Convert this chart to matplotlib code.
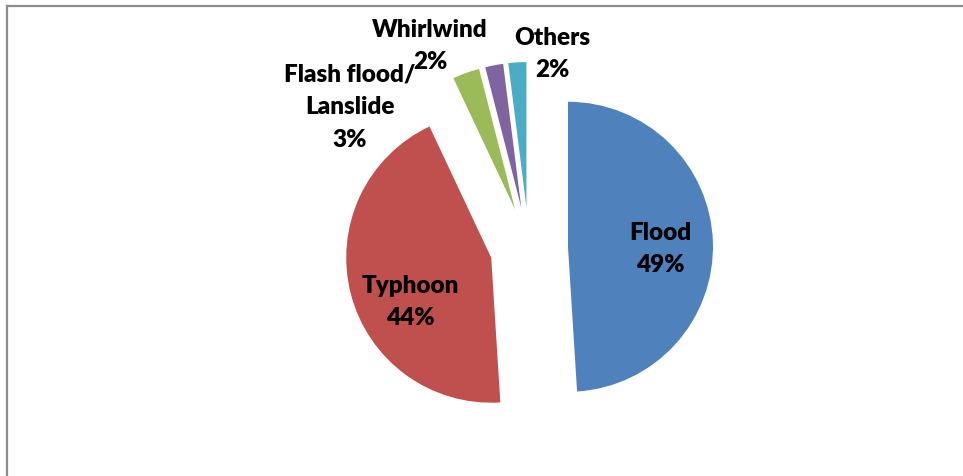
import matplotlib
matplotlib.use("Agg")
import matplotlib.pyplot as plt
from matplotlib.lines import Line2D

categories = ["Flood", "Typhoon", "Flash flood/\nLanslide", "Whirlwind", "Others"]
values = [49, 44, 3, 2, 2]
colors = ["#4F81BD", "#C0504D", "#9BBB59", "#8064A2", "#4BACC6"]
explode = [39, 39, 41, 41, 41]

W, H = 963, 477
fig = plt.figure(figsize=(W / 100, H / 100), dpi=100)
ax = fig.add_axes([0, 0, 1, 1])

ax.pie(values, colors=colors, explode=explode, center=(529, H - 249), radius=145,
       startangle=90, counterclock=False, wedgeprops=dict(linewidth=0),
       frame=True)
ax.set_xlim(0, W)
ax.set_ylim(0, H)
ax.set_aspect("equal")
ax.axis("off")

label_pos = [(660, 249), (410, 302), (350, 107), (430, 46), (552, 54)]
for cat, v, (x, y) in zip(categories, values, label_pos):
    ax.text(x, H - y, f"{cat}\n{v}%", ha="center", va="center", fontsize=17.5,
            fontweight="heavy", family=["Lato", "DejaVu Sans"], linespacing=1.6,
            color="black")

fig.add_artist(Line2D([7 / W, 7 / W], [0, 1 - 7 / H], transform=fig.transFigure,
                      color="#8c8c8c", linewidth=1.6))
fig.add_artist(Line2D([7 / W, 1], [1 - 7 / H, 1 - 7 / H], transform=fig.transFigure,
                      color="#8c8c8c", linewidth=1.6))

fig.savefig("out.png", dpi=100, facecolor="white")
